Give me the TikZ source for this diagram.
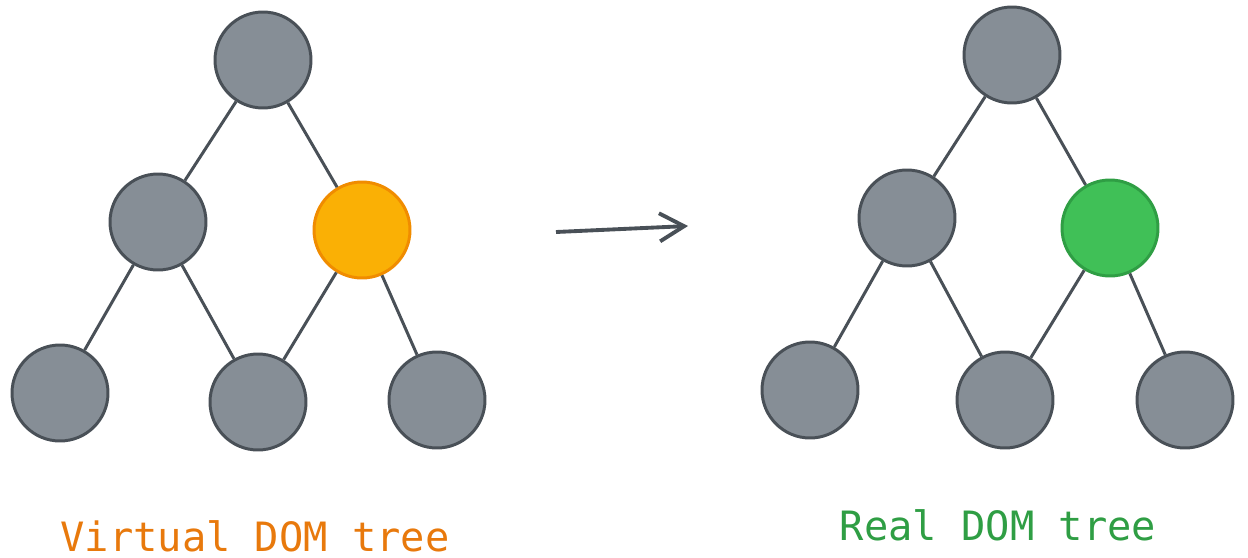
\documentclass[tikz,border=0pt]{standalone}
\usepackage{fontspec}
\setmonofont{DejaVu Sans Mono}
\usepackage{tikz}
\usetikzlibrary{arrows.meta}

\definecolor{nodegray}{HTML}{868E96}
\definecolor{edgegray}{HTML}{495057}
\definecolor{virtfill}{HTML}{FAB005}
\definecolor{virtline}{HTML}{F08C00}
\definecolor{virttext}{HTML}{E8790C}
\definecolor{realfill}{HTML}{40C057}
\definecolor{realline}{HTML}{2F9E44}

\begin{document}
\begin{tikzpicture}
	[x=0.02cm,y=-0.02cm,
	every node/.style={circle,draw=edgegray,line width=1.7pt,fill=nodegray,minimum size=1.92cm,inner sep=0pt},
	changed/.style={draw=virtline,fill=virtfill},
	patched/.style={draw=realline,fill=realfill},
	label text/.style={draw=none,fill=none,rectangle,inner sep=0pt,font=\ttfamily\fontsize{23}{23}\selectfont}]
	\useasboundingbox (0,0) rectangle (1248,558);
	% virtual tree
	\node (v1) at (263,60) {};
	\node (v2) at (158,222) {};
	\node[changed] (v3) at (362,230) {};
	\node (v4) at (60,393) {};
	\node (v5) at (258,402) {};
	\node (v6) at (437,400) {};
	% real tree
	\node (r1) at (1012,55) {};
	\node (r2) at (907,218) {};
	\node[patched] (r3) at (1110,228) {};
	\node (r4) at (810,390) {};
	\node (r5) at (1005,400) {};
	\node (r6) at (1185,400) {};
	\foreach \from/\to in {v1/v2,v1/v3,v2/v4,v2/v5,v3/v5,v3/v6,r1/r2,r1/r3,r2/r4,r2/r5,r3/r5,r3/r6}
	\draw[edgegray,line width=1.7pt] (\from) -- (\to);
	% update arrow
	\coordinate (a1) at (556,232);
	\coordinate (a2) at (688,226);
	\draw[edgegray,line width=2.2pt,-{Straight Barb[length=14pt,width=16pt]}] (a1) -- (a2);
	\node[label text,text=virttext,anchor=base] (t1) at (255,551) {Virtual DOM tree};
	\node[label text,text=realline,anchor=base] (t2) at (998,540) {Real DOM tree};
\end{tikzpicture}
\end{document}
